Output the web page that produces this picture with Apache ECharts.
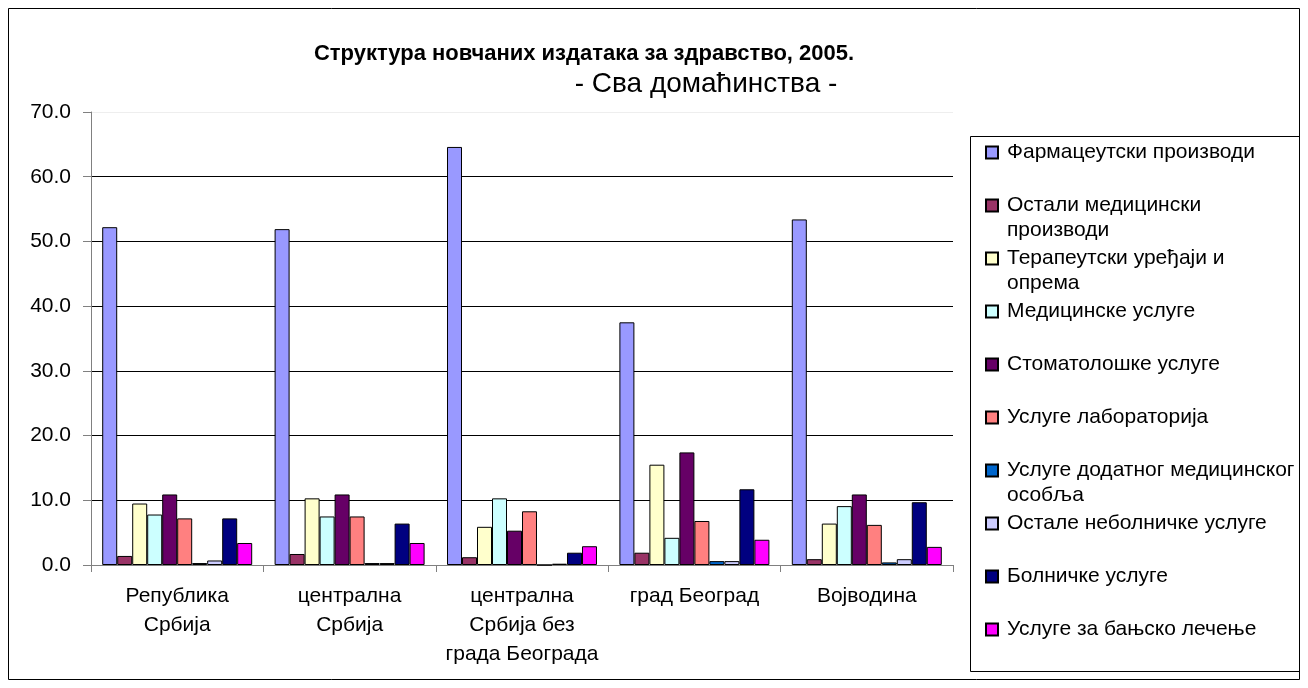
<!DOCTYPE html>
<html>
<head>
<meta charset="utf-8">
<script src="https://cdn.jsdelivr.net/npm/echarts@6/dist/echarts.min.js"></script>
<style>
  html, body { margin: 0; padding: 0; background: #fff; }
  #chart { width: 1308px; height: 688px; }
</style>
</head>
<body>
<div id="chart"></div>
<script>
// региони
const categories = [
  "Република\nСрбија",
  "централна\nСрбија",
  "централна\nСрбија без\nграда Београда",
  "град Београд",
  "Војводина"
];

// категорије издатака (редослед као у легенди)
const seriesNames = [
  "Фармацеутски производи",
  "Остали медицински производи",
  "Терапеутски уређаји и опрема",
  "Медицинске услуге",
  "Стоматолошке услуге",
  "Услуге лабораторија",
  "Услуге додатног медицинског особља",
  "Остале неболничке услуге",
  "Болничке услуге",
  "Услуге за бањско лечење"
];
const legendLabels = [
  "Фармацеутски производи\n",
  "Остали медицински\nпроизводи",
  "Терапеутски уређаји и\nопрема",
  "Медицинске услуге\n",
  "Стоматолошке услуге\n",
  "Услуге лабораторија\n",
  "Услуге додатног медицинског\nособља",
  "Остале неболничке услуге\n",
  "Болничке услуге\n",
  "Услуге за бањско лечење\n"
];
const colors = ["#9999FF", "#993366", "#FFFFCC", "#CCFFFF", "#660066",
  "#FF8080", "#0066CC", "#CCCCFF", "#000080", "#FF00FF"];

// вредности (%)
const farmaceutski = [52.2, 51.9, 64.6, 37.5, 53.4];
const ostaliMed = [1.4, 1.7, 1.2, 1.9, 0.9];
const terapeutski = [9.5, 10.3, 5.9, 15.5, 6.4];
const medicinske = [7.8, 7.5, 10.3, 4.2, 9.1];
const stomatoloske = [10.9, 10.9, 5.3, 17.4, 10.9];
const laboratorija = [7.2, 7.5, 8.3, 6.8, 6.2];
const dodatno = [0.3, 0.3, 0.0, 0.6, 0.4];
const ostaleNebolnicke = [0.7, 0.3, 0.2, 0.6, 0.9];
const bolnicke = [7.2, 6.4, 1.9, 11.7, 9.7];
const banjsko = [3.4, 3.4, 2.9, 3.9, 2.8];
const values = [farmaceutski, ostaliMed, terapeutski, medicinske, stomatoloske,
  laboratorija, dodatno, ostaleNebolnicke, bolnicke, banjsko];

const yTicks = [0, 10, 20, 30, 40, 50, 60, 70];

const font = "Liberation Sans, Arial, sans-serif";
const myChart = echarts.init(document.getElementById("chart"));

let option = {
  animation: false,
  backgroundColor: "#fff",
  graphic: [
    {
      type: "rect",
      shape: { x: 8.5, y: 8.5, width: 1291, height: 671 },
      style: { fill: "none", stroke: "#000", lineWidth: 1 },
      z: 0
    },
    {
      type: "rect",
      shape: { x: 970.5, y: 136.5, width: 329, height: 535 },
      style: { fill: "none", stroke: "#000", lineWidth: 1 },
      z: 0
    },
    {
      type: "text",
      style: {
        x: 584, y: 54, text: "Структура новчаних издатака за здравство, 2005.",
        align: "center", verticalAlign: "middle",
        font: "bold 22px " + font, fill: "#000"
      }
    },
    {
      type: "text",
      style: {
        x: 706, y: 84, text: "- Сва домаћинства -",
        align: "center", verticalAlign: "middle",
        font: "28px " + font, fill: "#000"
      }
    }
  ],
  legend: {
    orient: "vertical",
    left: 985,
    top: 139,
    padding: 0,
    itemGap: 1,
    itemWidth: 16,
    itemHeight: 50,
    icon: "path://M0,0M0,6.5H12V18.5H0ZM16,50",
    formatter: (name) => legendLabels[seriesNames.indexOf(name)],
    textStyle: { fontFamily: font, fontSize: 21, lineHeight: 25, color: "#000" },
    data: seriesNames
  },
  grid: { left: 91, top: 112, width: 862, height: 453, containLabel: false },
  xAxis: {
    type: "category",
    data: categories,
    axisLine: { lineStyle: { color: "#808080", width: 1 } },
    axisTick: { show: true, length: 7, lineStyle: { color: "#808080" } },
    axisLabel: {
      interval: 0, margin: 17, color: "#000",
      fontFamily: font, fontSize: 21, lineHeight: 29
    }
  },
  yAxis: {
    type: "value",
    min: 0, max: 70, interval: 10,
    axisLine: { show: true, lineStyle: { color: "#808080", width: 1 } },
    axisTick: { show: true, length: 8, lineStyle: { color: "#808080" } },
    axisLabel: {
      margin: 20, color: "#000", fontFamily: font, fontSize: 21,
      formatter: (v) => yTicks.includes(v) ? v.toFixed(1) : ""
    },
    splitLine: {
      show: true,
      lineStyle: {
        color: ["#000", "#000", "#000", "#000", "#000", "#000", "#000", "#eeeeee"],
        width: 1
      }
    }
  },
  series: seriesNames.map((name, i) => ({
    name: name,
    type: "bar",
    data: values[i],
    barGap: "0%",
    barCategoryGap: "13%",
    itemStyle: { color: colors[i], borderColor: "#000", borderWidth: 1 }
  }))
};

myChart.setOption(option);
window.onresize = () => {
  myChart.resize();
};
</script>
</body>
</html>
